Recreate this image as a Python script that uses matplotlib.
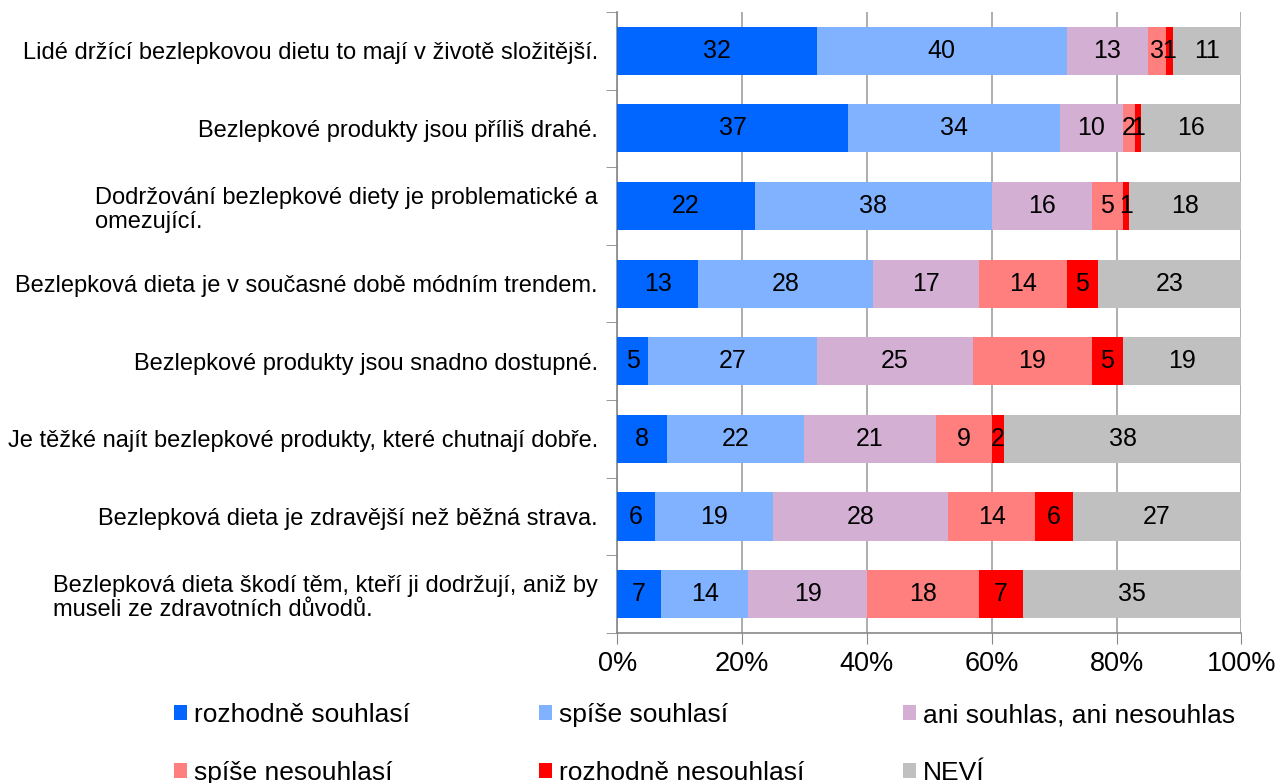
import numpy as np
import matplotlib
matplotlib.use("Agg")
import matplotlib.pyplot as plt

plt.rcParams['font.family'] = ['Liberation Sans', 'DejaVu Sans']

# 分类（从上到下）
categories = [
    "Lidé držící bezlepkovou dietu to mají v životě složitější.",
    "Bezlepkové produkty jsou příliš drahé.",
    "Dodržování bezlepkové diety je problematické a\nomezující.",
    "Bezlepková dieta je v současné době módním trendem.",
    "Bezlepkové produkty jsou snadno dostupné.",
    "Je těžké najít bezlepkové produkty, které chutnají dobře.",
    "Bezlepková dieta je zdravější než běžná strava.",
    "Bezlepková dieta škodí těm, kteří ji dodržují, aniž by\nmuseli ze zdravotních důvodů.",
]

series_names = ["rozhodně souhlasí", "spíše souhlasí", "ani souhlas, ani nesouhlas",
                "spíše nesouhlasí", "rozhodně nesouhlasí", "NEVÍ"]

rozhodne_souhlasi = [32, 37, 22, 13, 5, 8, 6, 7]
spise_souhlasi = [40, 34, 38, 28, 27, 22, 19, 14]
ani_ani = [13, 10, 16, 17, 25, 21, 28, 19]
spise_nesouhlasi = [3, 2, 5, 14, 19, 9, 14, 18]
rozhodne_nesouhlasi = [1, 1, 1, 5, 5, 2, 6, 7]
nevi = [11, 16, 18, 23, 19, 38, 27, 35]

colors = ['#0066FF', '#80B2FF', '#D4AFD4', '#FF7F7F', '#FF0000', '#C0C0C0']

data = np.array([rozhodne_souhlasi, spise_souhlasi, ani_ani,
                 spise_nesouhlasi, rozhodne_nesouhlasi, nevi], dtype=float)
totals = data.sum(axis=0)
pct = data / totals * 100

fig = plt.figure(figsize=(12.78, 7.83), dpi=100)
ax = fig.add_axes([0.483, 0.1916, 0.4883, 0.7931])

y = np.arange(len(categories))
left = np.zeros(len(categories))
bars = []
for i, name in enumerate(series_names):
    b = ax.barh(y, pct[i], left=left, height=0.62, color=colors[i],
                label=name, zorder=3)
    bars.append(b)
    for j in range(len(categories)):
        ax.text(left[j] + pct[i][j] / 2, y[j], f"{int(data[i][j])}",
                ha='center', va='center', fontsize=18, color='black', zorder=4)
    left += pct[i]

ax.set_xlim(0, 100)
ax.set_ylim(len(categories) - 0.5, -0.5)
ax.set_xticks(np.arange(0, 101, 20))
ax.set_xticklabels([f"{v}%" for v in range(0, 101, 20)], fontsize=19.5)
ax.set_yticks(y)
ax.set_yticklabels(categories, fontsize=17, multialignment='left', linespacing=1.15)
ax.set_yticks(np.arange(-0.5, len(categories), 1), minor=True)
ax.tick_params(axis='y', which='major', length=0, pad=14)
ax.tick_params(axis='y', which='minor', length=8, color='#888888', direction='out')
ax.tick_params(axis='x', length=8, color='#888888', direction='out', pad=5)

ax.grid(True, axis='x', color='#A0A0A0', linewidth=1.2, zorder=0)
for s in ['top', 'right']:
    ax.spines[s].set_visible(False)
for s in ['left', 'bottom']:
    ax.spines[s].set_color('#888888')
    ax.spines[s].set_linewidth(1.2)

# legenda: 3 sloupce pevné šířky, po dvou položkách
col_x = [174, 539, 903]
for c in range(3):
    idx = [c, c + 3]
    fig.legend([bars[k] for k in idx], [series_names[k] for k in idx],
               loc='upper left', bbox_to_anchor=(col_x[c] / 1278, 1 - 703 / 783),
               frameon=False, fontsize=19, handlelength=0.5, handleheight=0.5,
               handletextpad=0.25, labelspacing=1.3, borderpad=0, borderaxespad=0)

fig.savefig("out.png", dpi=100)
